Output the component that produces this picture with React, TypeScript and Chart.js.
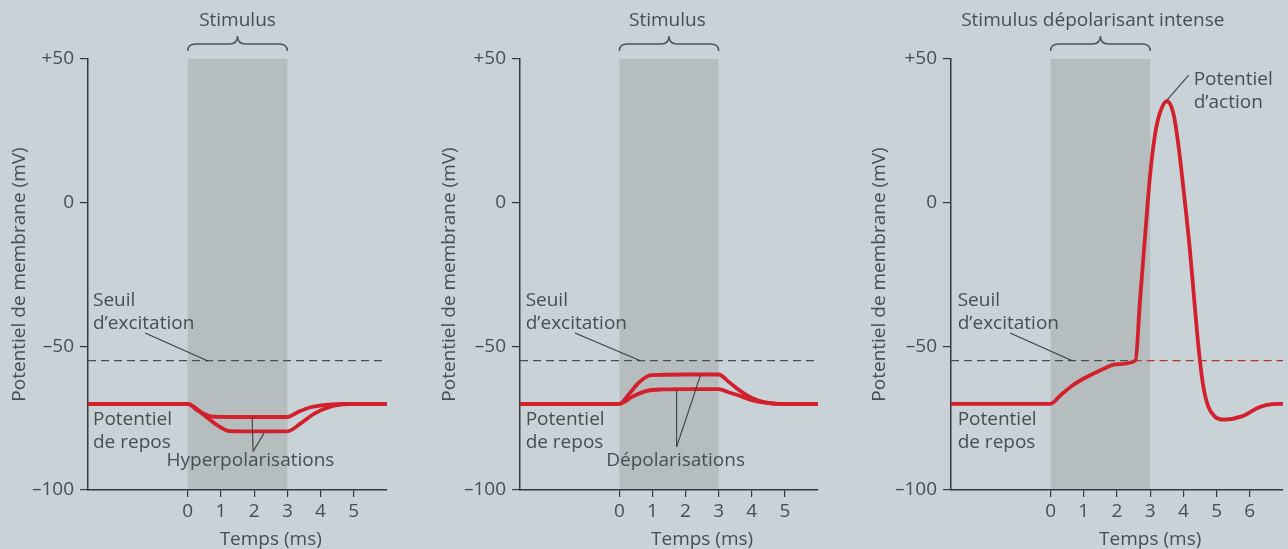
import React, { useEffect, useRef } from "react";
import { Chart, registerables } from "chart.js";

Chart.register(...registerables);

// ---------- data ----------
const Y_TICKS = [-100, -50, 0, 50];
const Y_TICK_LABELS = ["–100", "–50", "0", "+50"];
const X_TICKS_AB = [0, 1, 2, 3, 4, 5];
const X_TICKS_C = [0, 1, 2, 3, 4, 5, 6];
const THRESHOLD = -55;
const STIM_START = 0;
const STIM_END = 3;

// Panel A : hyperpolarisations
const HYPER_SMALL_T = [-3, 0, 0.3, 0.55, 0.8, 2, 3, 3.3, 3.7, 4.2, 4.7, 6];
const HYPER_SMALL_V = [-70, -70, -72.3, -73.8, -74.5, -74.6, -74.6, -73, -71.2, -70.3, -70, -70];
const HYPER_LARGE_T = [-3, 0, 0.45, 0.9, 1.27, 2, 3, 3.4, 3.8, 4.3, 4.7, 5, 6];
const HYPER_LARGE_V = [-70, -70, -73.5, -77.5, -79.5, -79.6, -79.6, -76.8, -73.5, -71, -70.2, -70, -70];

// Panel B : dépolarisations
const DEPOL_LARGE_T = [-3, 0, 0.3, 0.6, 0.95, 2, 3, 3.3, 3.65, 4, 4.4, 4.8, 6];
const DEPOL_LARGE_V = [-70, -70, -66.5, -62.5, -60, -59.8, -59.8, -62.3, -65.5, -68, -69.5, -70, -70];
const DEPOL_SMALL_T = [-3, 0, 0.4, 0.8, 1.3, 2, 3, 3.3, 3.65, 4, 4.4, 4.8, 6];
const DEPOL_SMALL_V = [-70, -70, -67.5, -65.6, -65, -64.9, -64.9, -66, -67.3, -68.7, -69.6, -70, -70];

// Panel C : potentiel d'action
const AP_T = [-3, 0, 0.3, 0.65, 1, 1.25, 1.6, 1.95, 2.55, 2.7, 2.85, 3.0, 3.15, 3.3, 3.5, 3.7, 3.85, 4.0, 4.2, 4.35, 4.47, 4.6, 4.75, 4.95, 5.22, 5.78, 6.28, 6.68, 7];
const AP_V = [-70, -70, -67, -63.7, -61.2, -59.7, -57.8, -56.3, -55, -33, -11, 10, 24, 31.5, 35.3, 31, 20, 5, -17, -37, -52, -64, -71, -74.5, -75.5, -74.3, -71.2, -70.1, -70];

// Threshold line extents
const THRESH_AB_T = [-3, 6];
const THRESH_C_GREY_T = [-3, 2.5];
const THRESH_C_RED_T = [2.5, 7];

// ---------- styles ----------
const FONT = '"Open Sans", "Noto Sans", sans-serif';
const FS = 19;
const TEXT = "#474e53";
const AXIS = "#33383c";
const RED = "#d3202d";
const BG = "#c9d3d7";

const pts = (t: number[], v: number[]) => t.map((x, i) => ({ x, y: v[i] }));
const flat = (t: number[], val: number) => t.map((x) => ({ x, y: val }));

type Note = { text: string; x: number; y: number; align: CanvasTextAlign };
type Leader = [number, number, number, number];

interface PanelDef {
  width: number;
  leftW: number;
  rightPad: number;
  xMax: number;
  xTicks: number[];
  title: string;
  titleX: number;
  curves: { x: number; y: number }[][];
  thresholds: { pts: { x: number; y: number }[]; color: string }[];
  notes: Note[];
  leaders: Leader[];
}

const leftNotes = (x: number): Note[] => [
  { text: "Seuil", x, y: -34.2, align: "left" },
  { text: "d’excitation", x, y: -42.2, align: "left" },
  { text: "Potentiel", x, y: -75.6, align: "left" },
  { text: "de repos", x, y: -83.4, align: "left" },
];

const PANELS: PanelDef[] = [
  {
    width: 430,
    leftW: 88,
    rightPad: 43,
    xMax: 6,
    xTicks: X_TICKS_AB,
    title: "Stimulus",
    titleX: 1.5,
    curves: [pts(HYPER_SMALL_T, HYPER_SMALL_V), pts(HYPER_LARGE_T, HYPER_LARGE_V)],
    thresholds: [{ pts: flat(THRESH_AB_T, THRESHOLD), color: "#4a4f53" }],
    notes: [...leftNotes(-2.85), { text: "Hyperpolarisations", x: 1.89, y: -89.6, align: "center" }],
    leaders: [
      [-1.28, -45.4, 0.61, -55.1],
      [1.94, -74.9, 1.97, -86.6],
      [2.3, -80.2, 1.97, -86.6],
    ],
  },
  {
    width: 430,
    leftW: 90,
    rightPad: 42,
    xMax: 6,
    xTicks: X_TICKS_AB,
    title: "Stimulus",
    titleX: 1.45,
    curves: [pts(DEPOL_LARGE_T, DEPOL_LARGE_V), pts(DEPOL_SMALL_T, DEPOL_SMALL_V)],
    thresholds: [{ pts: flat(THRESH_AB_T, THRESHOLD), color: "#4a4f53" }],
    notes: [...leftNotes(-2.83), { text: "Dépolarisations", x: 1.7, y: -89.6, align: "center" }],
    leaders: [
      [-1.34, -45.4, 0.62, -54.9],
      [1.73, -65.2, 1.73, -85],
      [2.45, -60.1, 1.73, -85],
    ],
  },
  {
    width: 428,
    leftW: 91,
    rightPad: 5,
    xMax: 7,
    xTicks: X_TICKS_C,
    title: "Stimulus dépolarisant intense",
    titleX: 1.27,
    curves: [pts(AP_T, AP_V)],
    thresholds: [
      { pts: flat(THRESH_C_GREY_T, THRESHOLD), color: "#4a4f53" },
      { pts: flat(THRESH_C_RED_T, THRESHOLD), color: "#b8333a" },
    ],
    notes: [
      ...leftNotes(-2.8),
      { text: "Potentiel", x: 4.31, y: 42.7, align: "left" },
      { text: "d’action", x: 4.31, y: 35, align: "left" },
    ],
    leaders: [
      [-1.22, -45.4, 0.67, -55.1],
      [4.16, 44.4, 3.5, 35.6],
    ],
  },
];

function Panel({ def, left }: { def: PanelDef; left: number }) {
  const ref = useRef<HTMLCanvasElement | null>(null);

  useEffect(() => {
    if (!ref.current) return;

    const deco = {
      id: "deco",
      beforeDraw(chart: any) {
        const { ctx, scales } = chart;
        const x = scales.x, y = scales.y;
        const x0 = x.getPixelForValue(STIM_START);
        const x1 = x.getPixelForValue(STIM_END);
        const yt = y.getPixelForValue(50);
        const yb = y.getPixelForValue(-100);
        ctx.save();
        ctx.fillStyle = "rgba(120,122,118,0.24)";
        ctx.fillRect(x0, yt, x1 - x0, yb - yt);
        ctx.restore();
      },
      afterDatasetsDraw(chart: any) {
        const { ctx, chartArea, scales } = chart;
        const x = scales.x, y = scales.y;
        ctx.save();
        // leaders
        ctx.strokeStyle = "#3b3f42";
        ctx.lineWidth = 1.1;
        def.leaders.forEach(([ax, ay, bx, by]) => {
          ctx.beginPath();
          ctx.moveTo(x.getPixelForValue(ax), y.getPixelForValue(ay));
          ctx.lineTo(x.getPixelForValue(bx), y.getPixelForValue(by));
          ctx.stroke();
        });
        // notes
        ctx.fillStyle = TEXT;
        ctx.font = `${FS}px ${FONT}`;
        ctx.textBaseline = "middle";
        def.notes.forEach((n) => {
          ctx.textAlign = n.align;
          ctx.fillText(n.text, x.getPixelForValue(n.x), y.getPixelForValue(n.y));
        });
        // x axis title centered on tick range
        const xt = def.xTicks;
        const cx = x.getPixelForValue((xt[0] + xt[xt.length - 1]) / 2);
        ctx.textAlign = "center";
        ctx.fillText("Temps (ms)", cx, chartArea.bottom + 50);
        // title
        const top = chartArea.top;
        ctx.fillText(def.title, x.getPixelForValue(def.titleX), top - 38);
        // brace
        const bx0 = x.getPixelForValue(STIM_START);
        const bx1 = x.getPixelForValue(STIM_END);
        const bm = (bx0 + bx1) / 2;
        const yEnd = top - 8;
        const yMid = top - 15;
        const yTip = top - 23;
        ctx.strokeStyle = "#50565a";
        ctx.lineWidth = 1.5;
        ctx.beginPath();
        ctx.moveTo(bx0, yEnd);
        ctx.quadraticCurveTo(bx0, yMid, bx0 + 8, yMid);
        ctx.lineTo(bm - 8, yMid);
        ctx.quadraticCurveTo(bm, yMid, bm, yTip);
        ctx.quadraticCurveTo(bm, yMid, bm + 8, yMid);
        ctx.lineTo(bx1 - 8, yMid);
        ctx.quadraticCurveTo(bx1, yMid, bx1, yEnd);
        ctx.stroke();
        ctx.restore();
      },
    };

    const datasets: any[] = [];
    def.thresholds.forEach((t) => {
      datasets.push({
        data: t.pts,
        borderColor: t.color,
        borderWidth: 1.2,
        borderDash: [8, 5],
        pointRadius: 0,
        fill: false,
      });
    });
    def.curves.forEach((c) => {
      datasets.push({
        data: c,
        borderColor: RED,
        borderWidth: 3.8,
        pointRadius: 0,
        fill: false,
        cubicInterpolationMode: "monotone",
        borderCapStyle: "round",
        borderJoinStyle: "round",
      });
    });

    const tickFont = { family: FONT, size: FS };
    const chart = new Chart(ref.current, {
      type: "line",
      data: { datasets },
      options: {
        animation: false,
        responsive: false,
        events: [],
        layout: { padding: { left: 0, right: def.rightPad, top: 59, bottom: 0 } },
        plugins: { legend: { display: false }, tooltip: { enabled: false } },
        scales: {
          x: {
            type: "linear",
            min: -3,
            max: def.xMax,
            afterBuildTicks: (ax: any) => {
              ax.ticks = def.xTicks.map((v) => ({ value: v }));
            },
            afterFit: (s: any) => {
              s.height = 59;
            },
            grid: {
              drawOnChartArea: false,
              drawTicks: true,
              tickLength: 7,
              color: AXIS,
              lineWidth: 1.2,
            },
            border: { display: true, color: AXIS, width: 1.5 },
            ticks: {
              color: TEXT,
              font: tickFont,
              padding: 3,
              maxRotation: 0,
              autoSkip: false,
              callback: (v: any) => String(v),
            },
          },
          y: {
            type: "linear",
            min: -100,
            max: 50,
            afterBuildTicks: (ax: any) => {
              ax.ticks = Y_TICKS.map((v) => ({ value: v }));
            },
            afterFit: (s: any) => {
              s.width = def.leftW;
            },
            grid: {
              drawOnChartArea: false,
              drawTicks: true,
              tickLength: 8,
              color: AXIS,
              lineWidth: 1.2,
            },
            border: { display: true, color: AXIS, width: 1.5 },
            ticks: {
              color: TEXT,
              font: tickFont,
              padding: 6,
              autoSkip: false,
              callback: (v: any) => {
                const i = Y_TICKS.indexOf(Number(v));
                return i >= 0 ? Y_TICK_LABELS[i] : "";
              },
            },
            title: {
              display: true,
              text: "Potentiel de membrane (mV)",
              color: TEXT,
              font: { family: FONT, size: FS },
              padding: { top: 8, bottom: 0 },
            },
          },
        },
      },
      plugins: [deco],
    } as any);

    return () => chart.destroy();
  }, [def]);

  return (
    <canvas
      ref={ref}
      width={def.width}
      height={549}
      style={{ position: "absolute", left, top: 0, width: def.width, height: 549 }}
    />
  );
}

export default function App() {
  const lefts = [0, 430, 860];
  return (
    <div
      style={{
        position: "fixed",
        left: 0,
        top: 0,
        width: 1288,
        height: 549,
        background: BG,
        overflow: "hidden",
      }}
    >
      {PANELS.map((p, i) => (
        <Panel key={i} def={p} left={lefts[i]} />
      ))}
    </div>
  );
}
